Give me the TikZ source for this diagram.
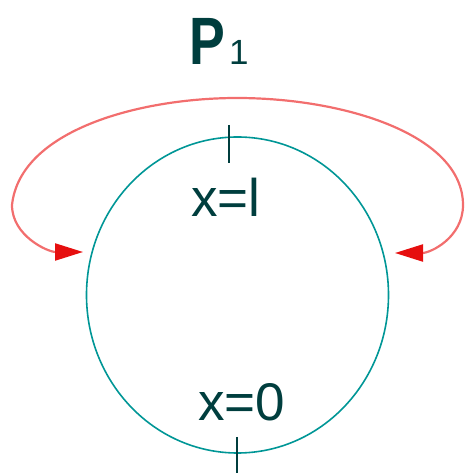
\documentclass[tikz,border=0pt]{standalone}
\usepackage{fontspec}
\setmainfont{Liberation Sans}
\usetikzlibrary{arrows.meta}

\definecolor{ringteal}{RGB}{0,150,150}
\definecolor{labelteal}{RGB}{0,62,62}
\definecolor{looppink}{RGB}{242,110,110}
\definecolor{tipred}{RGB}{230,15,15}

\begin{document}
\begin{tikzpicture}[
        x=1pt, y=-1pt,
        every node/.style={inner sep=0pt, text=labelteal},
        ring/.style={draw=ringteal, line width=1.6pt},
        tick/.style={draw=labelteal, line width=1.6pt},
        loop/.style={draw=looppink, line width=2.2pt,
          {Triangle[length=28pt,width=17pt,color=tipred,fill=tipred]}-{Triangle[length=28pt,width=17pt,color=tipred,fill=tipred]}},
        poslabel/.style={font=\fontsize{53}{56}\selectfont, anchor=base west}
      ]
  \useasboundingbox (0,0) rectangle (475,473);

  % ring and its marks
  \coordinate (centre) at (237.5,295);
  \draw[ring] (centre) ellipse [x radius=151, y radius=158];
  \draw[tick] (229,125) -- (229,163);
  \draw[tick] (237,437) -- (237,473);

  % labels
  \node[anchor=base west, xscale=0.8, font=\fontsize{67}{70}\selectfont\bfseries] (pee) at (189,65) {P};
  \node[anchor=base west, font=\fontsize{35}{38}\selectfont] (one) at (229,65) {1};
  \node[poslabel] (top) at (191,217) {x=l};
  \node[poslabel] (bottom) at (198,421) {x=0};

  % operator loop
  \coordinate (lend) at (83,252);
  \coordinate (rend) at (395,253);
  \draw[loop] (lend) .. controls (48,252) and (12,236) .. (12,205)
    .. controls (20,130) and (140,98) .. (237,98)
    .. controls (345,98) and (463,135) .. (463,205)
    .. controls (463,238) and (430,253) .. (rend);
\end{tikzpicture}
\end{document}
